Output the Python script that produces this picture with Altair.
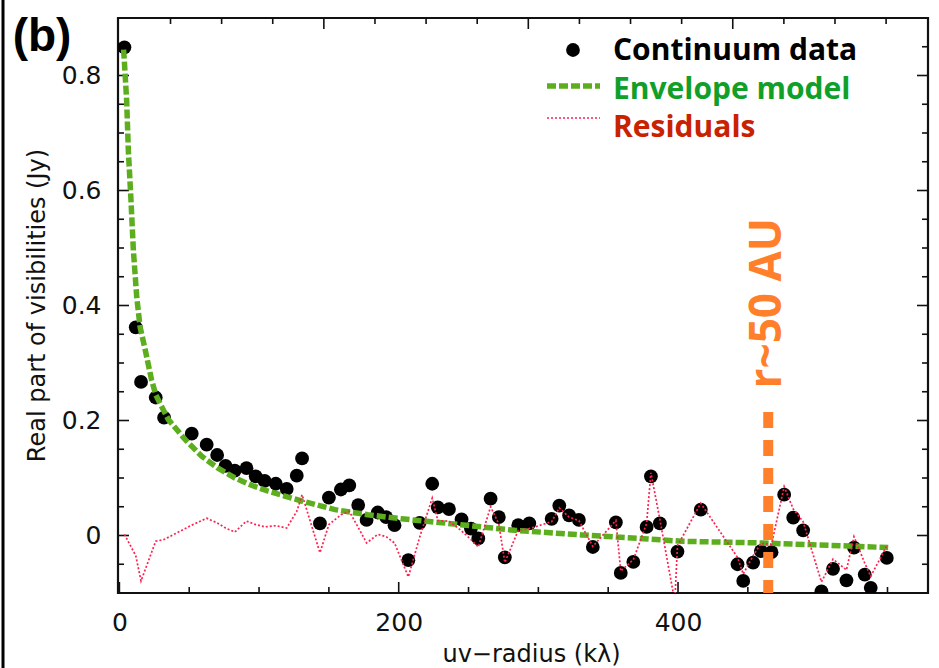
import altair as alt
import pandas as pd

# ---- data ----
data_x = [3.6, 11.7, 15.5, 26.0, 32.0, 51.8, 62.5, 70.0, 76.0, 82.6, 91.0, 97.6, 104.0, 112.0, 119.8,
          127.0, 130.8, 143.6, 150.0, 158.6, 164.6, 171.0, 177.0, 185.0, 191.0, 197.0, 206.9, 215.0,
          224.0, 228.0, 236.0, 245.0, 251.7, 257.0, 265.8, 271.7, 276.0, 285.6, 293.5, 309.5, 315.0,
          322.0, 329.0, 339.0, 355.5, 359.0, 368.0, 377.5, 380.6, 387.0, 397.7, 399.6, 416.3, 442.6,
          446.7, 453.8, 459.3, 467.0, 476.0, 482.5, 489.6, 502.7, 511.0, 520.6, 526.0, 533.7, 538.0, 549.5]
data_y = [0.849, 0.362, 0.267, 0.240, 0.205, 0.177, 0.158, 0.140, 0.121, 0.113, 0.117, 0.103, 0.095,
          0.090, 0.081, 0.104, 0.134, 0.021, 0.066, 0.080, 0.087, 0.053, 0.027, 0.040, 0.032, 0.018,
          -0.043, 0.022, 0.090, 0.049, 0.046, 0.028, 0.012, -0.005, 0.064, 0.032, -0.038, 0.018, 0.021,
          0.029, 0.052, 0.035, 0.027, -0.020, 0.023, -0.065, -0.046, 0.015, 0.103, 0.021, -0.125, -0.028,
          0.045, -0.050, -0.079, -0.047, -0.027, -0.029, 0.071, 0.031, 0.009, -0.097, -0.058, -0.078,
          -0.021, -0.068, -0.091, -0.039]
resid_y = [0.002, -0.035, -0.079, -0.010, -0.007, 0.018, 0.030, 0.022, 0.013, 0.006, 0.025, 0.019, 0.015,
           0.017, 0.013, 0.042, 0.071, -0.030, 0.019, 0.036, 0.042, 0.014, -0.013, 0.002, -0.002, -0.013,
           -0.072, -0.003, 0.065, 0.026, 0.025, 0.008, -0.007, -0.020, 0.050, 0.020, -0.047, 0.009, 0.012,
           0.024, 0.048, 0.032, 0.026, -0.019, 0.026, -0.062, -0.042, 0.021, 0.109, 0.028, -0.115, -0.018,
           0.056, -0.038, -0.067, -0.035, -0.014, -0.015, 0.085, 0.046, 0.024, -0.081, -0.041, -0.060,
           -0.002, -0.048, -0.071, -0.018]

env_x = [3.0, 3.6, 5.2, 6.4, 8.3, 10.0, 12.4, 14.8, 18.3, 23.0, 26.0, 32.6, 35.0, 47.0, 58.9, 70.0, 82.7,
         95.0, 106.6, 130.5, 154.3, 178.0, 202.0, 235.5, 283.0, 331.0, 378.6, 402.5, 459.8, 507.5, 550.5]
env_y = [0.845, 0.823, 0.756, 0.670, 0.583, 0.496, 0.415, 0.363, 0.325, 0.271, 0.245, 0.213, 0.202, 0.167,
         0.138, 0.118, 0.100, 0.087, 0.077, 0.060, 0.045, 0.036, 0.029, 0.021, 0.009, 0.001, -0.006,
         -0.010, -0.013, -0.017, -0.021]

marker_line_x = [464.6, 464.6]
marker_line_y = [0.215, -0.1]
marker_label = ["r~50 AU"]
marker_label_x = [464.6]
marker_label_y = [0.404]

x_label_vals = [0, 200, 400]
y_label_vals = [0, 0.2, 0.4, 0.6, 0.8]
x_major_ticks = [0, 200, 400]
x_minor_ticks = [50, 100, 150, 250, 300, 350, 450, 500, 550]
top_major_ticks = [146.4, 292.8, 439.2]
top_minor_ticks = [36.6, 73.2, 109.8, 183.0, 219.6, 256.2, 329.4, 366.0, 402.6, 475.8, 512.4, 549.0]
y_major_ticks = [0.0, 0.2, 0.4, 0.6, 0.8]
y_minor_ticks = [-0.05, 0.05, 0.1, 0.15, 0.25, 0.3, 0.35, 0.45, 0.5, 0.55, 0.65, 0.7, 0.75, 0.85]

legend_labels = ["Continuum data", "Envelope model", "Residuals"]
legend_colors = ["#000000", "#10a02a", "#c82200"]

W, H = 810, 575
XD = [-1, 579]
YD = [-0.1, 0.9]

xs = alt.Scale(domain=XD, nice=False, zero=False)
ys = alt.Scale(domain=YD, nice=False, zero=False)
FONT = "DejaVu Sans"
BOLD = "Open Sans"

pts = pd.DataFrame({"x": data_x, "y": data_y})
res = pd.DataFrame({"x": data_x, "y": resid_y})
env = pd.DataFrame({"x": env_x, "y": env_y})

base_axes = alt.Chart(pd.DataFrame({"x": [0], "y": [0]})).mark_point(opacity=0).encode(
    x=alt.X("x:Q", scale=xs, axis=alt.Axis(
        values=x_label_vals, format="d", grid=False, domain=False, ticks=False,
        labelFont=FONT, labelFontSize=25, labelColor="#111", labelPadding=29,
        labelBaseline="middle",
        title="uv\u2212radius (k\u03bb)", titleFont=FONT, titleFontSize=24, titleFontWeight="normal",
        titleColor="#111", titleX=413, titleY=61, titleBaseline="middle", titleAlign="center")),
    y=alt.Y("y:Q", scale=ys, axis=alt.Axis(
        values=y_label_vals, labelExpr="datum.value == 0 ? '0' : format(datum.value, '.1f')",
        grid=False, domain=False, ticks=False,
        labelFont=FONT, labelFontSize=25, labelColor="#111", labelPadding=17,
        title="Real part of visibilities (Jy)", titleFont=FONT, titleFontSize=24,
        titleFontWeight="normal", titleColor="#111", titleX=-81, titleY=287,
        titleAngle=270, titleBaseline="middle", titleAlign="center")),
)

def xticks(vals, length, top):
    df = pd.DataFrame({"x": vals})
    if top:
        yy, yy2 = alt.value(0), alt.value(length)
    else:
        yy, yy2 = alt.value(H), alt.value(H - length)
    return alt.Chart(df).mark_rule(color="#111", strokeWidth=1.6).encode(
        x=alt.X("x:Q", scale=xs), y=yy, y2=yy2)

def yticks(vals, length, right):
    df = pd.DataFrame({"y": vals})
    if right:
        xx, xx2 = alt.value(W), alt.value(W - length)
    else:
        xx, xx2 = alt.value(0), alt.value(length)
    return alt.Chart(df).mark_rule(color="#111", strokeWidth=1.6).encode(
        y=alt.Y("y:Q", scale=ys), x=xx, x2=xx2)

ticks = [
    xticks(x_major_ticks, 11, False), xticks(x_minor_ticks, 6, False),
    xticks(top_major_ticks, 11, True), xticks(top_minor_ticks, 6, True),
    yticks(y_major_ticks, 11, False), yticks(y_minor_ticks, 6, False),
    yticks(y_major_ticks, 11, True), yticks(y_minor_ticks, 6, True),
]

dots = alt.Chart(pts).mark_circle(size=190, color="#000000", opacity=1, clip=True).encode(
    x=alt.X("x:Q", scale=xs), y=alt.Y("y:Q", scale=ys))

model = alt.Chart(env).mark_line(color="#5cae1e", strokeWidth=5.5, strokeDash=[9, 3], clip=True).encode(
    x=alt.X("x:Q", scale=xs), y=alt.Y("y:Q", scale=ys))

resid = alt.Chart(res).mark_line(color="#ff2050", strokeWidth=1.7, strokeDash=[2, 2], clip=True).encode(
    x=alt.X("x:Q", scale=xs), y=alt.Y("y:Q", scale=ys))

mkl = pd.DataFrame({"x": marker_line_x, "y": marker_line_y})
orange_line = alt.Chart(mkl).mark_line(color="#ff7f2a", strokeWidth=10, strokeDash=[16, 12],
                                       strokeCap="butt").encode(
    x=alt.X("x:Q", scale=xs), y=alt.Y("y:Q", scale=ys, sort=None), order=alt.Order("y:Q", sort="descending"))
mkt = pd.DataFrame({"x": marker_label_x, "y": marker_label_y, "t": marker_label})
orange_text = alt.Chart(mkt).mark_text(color="#ff7f2a", font=BOLD, fontWeight="bold", fontSize=44,
                                       angle=270, align="center", baseline="middle").encode(
    x=alt.X("x:Q", scale=xs), y=alt.Y("y:Q", scale=ys), text="t:N")

# legend (drawn manually, positioned in the plot's upper right)
leg_df = pd.DataFrame({"t": legend_labels, "c": legend_colors, "py": [33, 71.5, 110]})
leg_text = alt.Chart(leg_df).mark_text(font=BOLD, fontWeight="bold", fontSize=30, align="left",
                                       baseline="middle").encode(
    x=alt.value(495), y=alt.Y("py:Q", scale=None), text="t:N",
    color=alt.Color("c:N", scale=None))
leg_dot = alt.Chart(pd.DataFrame({"k": [legend_labels[0]]})).mark_circle(
    size=190, color="#000000", opacity=1).encode(x=alt.value(455), y=alt.value(32))
leg_green = alt.Chart(pd.DataFrame({"k": [legend_labels[1]]})).mark_rule(
    color="#5cae1e", strokeWidth=5.5, strokeDash=[9, 3]).encode(
    x=alt.value(429), x2=alt.value(482), y=alt.value(68))
leg_red = alt.Chart(pd.DataFrame({"k": [legend_labels[2]]})).mark_rule(
    color="#ff2050", strokeWidth=1.7, strokeDash=[2, 2]).encode(
    x=alt.value(429), x2=alt.value(482), y=alt.value(100))

panel_tag = alt.Chart(pd.DataFrame({"t": ["(b)"]})).mark_text(
    font="Liberation Sans", fontWeight="bold", fontSize=46, align="center", baseline="middle",
    color="#000").encode(x=alt.value(-76), y=alt.value(19), text="t:N")

left_border = alt.Chart(pd.DataFrame({"k": [0]})).mark_rule(color="#000", strokeWidth=3).encode(
    x=alt.value(-115), y=alt.value(-18), y2=alt.value(650))

chart = alt.layer(
    base_axes, *ticks, dots, model, resid, orange_line, orange_text,
    leg_dot, leg_green, leg_red, leg_text, panel_tag, left_border
).properties(
    width=W, height=H,
    autosize=alt.AutoSizeParams(type="none"),
    padding={"left": 118, "top": 18, "right": 11, "bottom": 75},
    background="white",
).configure_view(stroke="#111", strokeWidth=2.2, fill="white")

chart.save("out.html", embed_options={"renderer": "svg", "actions": False})
